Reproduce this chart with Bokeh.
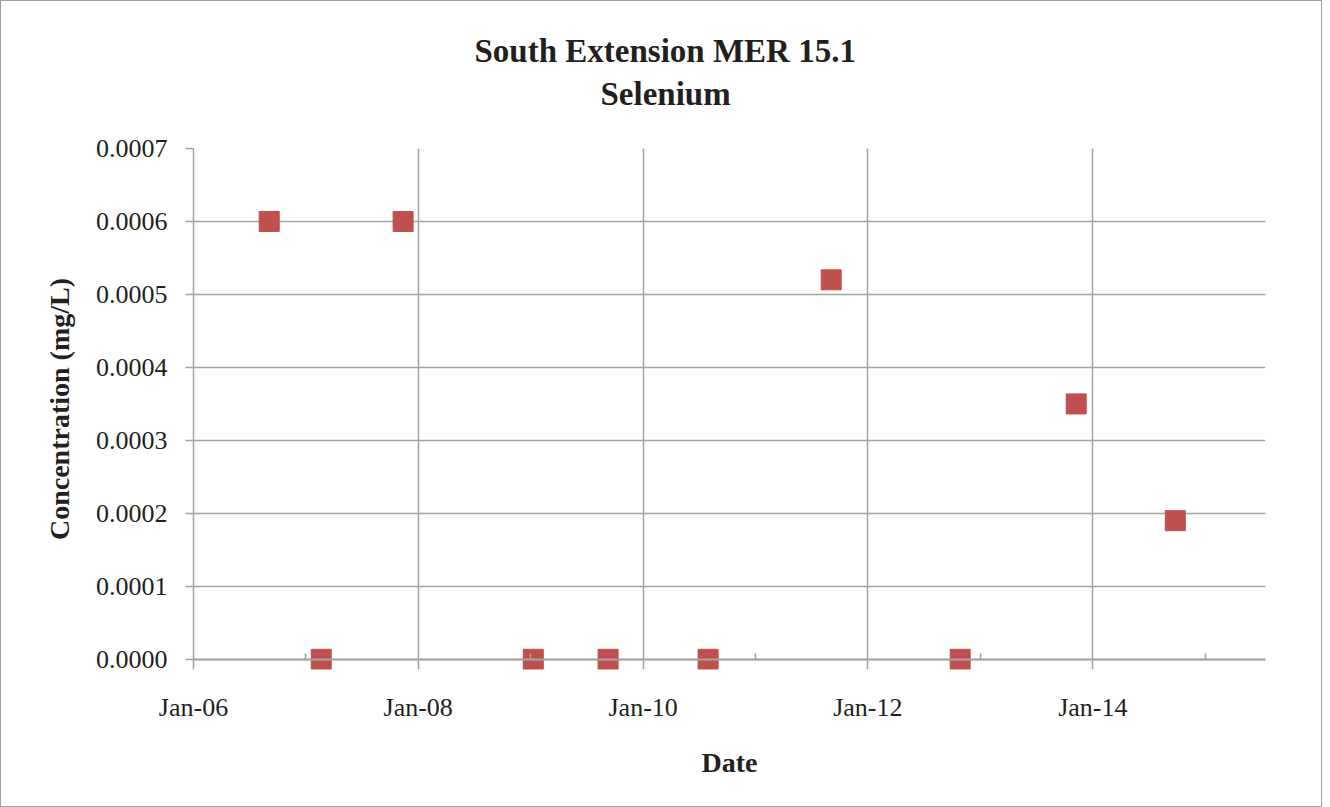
import pandas as pd
from bokeh.plotting import figure
from bokeh.models import (Range1d, FixedTicker, DatetimeTickFormatter, NumeralTickFormatter,
                          Title, DatetimeAxis)
from bokeh.embed import file_html
from bokeh.resources import INLINE

# ---- data ----
title_lines = ["South Extension MER 15.1", "Selenium"]
x_label = "Date"
y_label = "Concentration (mg/L)"
sample_dates = ["2006-09-04", "2007-02-20", "2007-11-13", "2009-01-09", "2009-09-09",
                "2010-07-31", "2011-09-04", "2012-10-27", "2013-11-08", "2014-09-26"]
concentration = [0.0006, 0.0, 0.0006, 0.0, 0.0, 0.0, 0.00052, 0.0, 0.00035, 0.00019]
x_major_ticks = ["2006-01-01", "2008-01-01", "2010-01-01", "2012-01-01", "2014-01-01"]
x_minor_ticks = ["2007-01-01", "2009-01-01", "2011-01-01", "2013-01-01", "2015-01-01"]
x_start, x_end = "2006-01-01", "2015-07-16"
y_ticks = [0.0, 0.0001, 0.0002, 0.0003, 0.0004, 0.0005, 0.0006, 0.0007]


def ms(d):
    return pd.Timestamp(d).value // 10**6


FONT = "Liberation Serif"
TXT = "#231f20"
GRID = "#a3a3a3"
fmt = "%b-%y"

p = figure(x_axis_type="datetime", frame_width=1072, frame_height=521,
           min_border_left=192, min_border_right=56, min_border_top=147, min_border_bottom=137,
           x_range=Range1d(ms(x_start), ms(x_end)),
           y_range=Range1d(-0.000014, 0.0007),
           output_backend="svg", toolbar_location=None)
p.styles = {"border": "1px solid #a0a0a0"}
p.outline_line_color = None

p.scatter(x=[ms(d) for d in sample_dates], y=concentration, marker="square", size=20,
          fill_color="#C0504D", line_color="#C0504D")

major = [ms(d) for d in x_major_ticks]
minor = [ms(d) for d in x_minor_ticks]

# x axis for labels (frame bottom)
xa = p.xaxis[0]
xa.ticker = FixedTicker(ticks=major, minor_ticks=minor)
xa.formatter = DatetimeTickFormatter(years=fmt, months=fmt, days=fmt, hours=fmt, minutes=fmt,
                                     seconds=fmt, milliseconds=fmt, microseconds=fmt,
                                     hourmin=fmt, minsec=fmt)
xa.axis_line_color = None
xa.major_tick_line_color = None
xa.minor_tick_line_color = None
xa.major_tick_in = 0
xa.major_tick_out = 0
xa.minor_tick_in = 0
xa.minor_tick_out = 0
xa.major_label_text_font = FONT
xa.major_label_text_font_size = "26px"
xa.major_label_text_color = TXT
xa.major_label_standoff = 23
xa.axis_label = x_label
xa.axis_label_text_font = FONT
xa.axis_label_text_font_style = "bold"
xa.axis_label_text_font_size = "28px"
xa.axis_label_text_color = TXT
xa.axis_label_standoff = 22

# x axis line + minor ticks at zero (major ticks come from the grid lines)
xb = DatetimeAxis(ticker=FixedTicker(ticks=[], minor_ticks=minor), fixed_location=0,
                  axis_line_color=GRID, axis_line_width=2,
                  major_tick_in=0, major_tick_out=0, major_tick_line_color=None,
                  minor_tick_in=6, minor_tick_out=0,
                  minor_tick_line_color=GRID, minor_tick_line_width=1.5)
p.add_layout(xb, "below")

# y axis
ya = p.yaxis[0]
ya.ticker = FixedTicker(ticks=y_ticks)
ya.formatter = NumeralTickFormatter(format="0.0000")
ya.axis_line_color = GRID
ya.axis_line_width = 1.5
ya.major_tick_in = 0
ya.major_tick_out = 8
ya.major_tick_line_color = GRID
ya.major_tick_line_width = 1.5
ya.minor_tick_line_color = None
ya.major_label_text_font = FONT
ya.major_label_text_font_size = "26px"
ya.major_label_text_color = TXT
ya.major_label_standoff = 18
ya.axis_label = y_label
ya.axis_label_text_font = FONT
ya.axis_label_text_font_style = "bold"
ya.axis_label_text_font_size = "28px"
ya.axis_label_text_color = TXT
ya.axis_label_standoff = 18

p.xgrid.grid_line_color = GRID
p.xgrid.grid_line_width = 1.5
p.ygrid.grid_line_color = GRID
p.ygrid.grid_line_width = 1.5

p.add_layout(Title(text=title_lines[1], align="left", offset=407, standoff=73,
                   text_font=FONT, text_font_style="bold", text_font_size="33px",
                   text_color=TXT), "above")
p.add_layout(Title(text=title_lines[0], align="left", offset=281, standoff=-62,
                   text_font=FONT, text_font_style="bold", text_font_size="33px",
                   text_color=TXT), "above")

open("out.html", "w").write(file_html(p, INLINE))
